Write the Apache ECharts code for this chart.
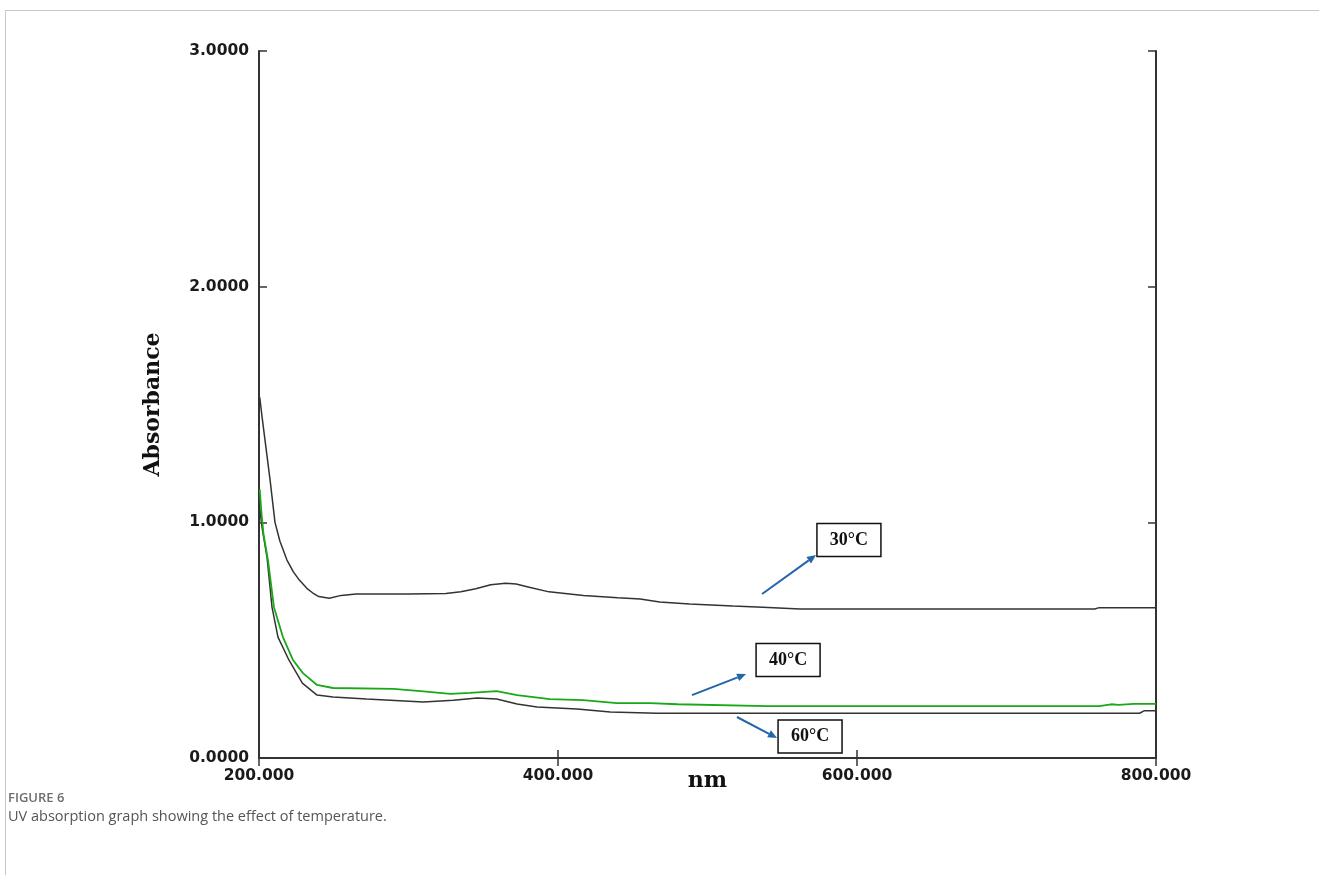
<!DOCTYPE html>
<html>
<head>
<meta charset="utf-8">
<script src="https://cdn.jsdelivr.net/npm/echarts@6/dist/echarts.min.js"></script>
<style>
html,body{margin:0;padding:0;background:#fff;}
#frame{position:absolute;left:5px;top:10px;width:1314px;height:865px;border-left:1px solid #c8c8c8;border-top:1px solid #c8c8c8;}
#chart{position:absolute;left:0;top:0;width:1319px;height:875px;}
#cap1{position:absolute;left:8px;top:788px;font-family:"Open Sans",sans-serif;font-weight:600;font-size:13px;color:#6e6e6e;}
#cap2{position:absolute;left:8px;top:806px;font-family:"Open Sans",sans-serif;font-size:14.5px;color:#555;}
</style>
</head>
<body>
<div id="frame"></div>
<div id="chart"></div>
<div id="cap1">FIGURE 6</div>
<div id="cap2">UV absorption graph showing the effect of temperature.</div>
<script>
// Data (wavelength nm, absorbance)
const seriesNames = ['30°C', '40°C', '60°C'];
const xTicks = [200, 400, 600, 800];
const yTicks = [0, 1, 2, 3];

const data30 = [[200.5,1.53],[202,1.45],[204,1.35],[207.4,1.18],[210.7,1.0],[214,0.92],[218.7,0.84],[223,0.79],[227,0.755],[232,0.72],[236,0.70],[240,0.685],[247,0.678],[255,0.69],[265,0.696],[300,0.696],[325,0.698],[335,0.705],[345,0.718],[355,0.735],[365,0.742],[372,0.738],[380,0.726],[394,0.705],[417,0.69],[440,0.68],[455,0.675],[468,0.662],[488,0.653],[517,0.645],[537,0.64],[562,0.632],[650,0.632],[759,0.632],[762,0.638],[800,0.638]];
const data40 = [[200.5,1.14],[201.5,1.05],[203,0.95],[206,0.84],[210,0.64],[216,0.513],[222.7,0.416],[229.4,0.36],[238.8,0.31],[249.5,0.297],[290,0.293],[310,0.283],[328,0.272],[341,0.276],[359,0.284],[372.6,0.267],[394.6,0.25],[416.7,0.246],[439.5,0.233],[461.5,0.233],[480,0.228],[540,0.22],[762,0.22],[770,0.228],[775,0.225],[785,0.23],[800,0.23]];
const data60 = [[200.5,1.06],[202,0.98],[205.4,0.85],[208.7,0.64],[212.7,0.513],[220,0.416],[229,0.318],[238.8,0.267],[249.5,0.259],[272,0.25],[310,0.238],[330,0.245],[346,0.255],[359,0.25],[372.6,0.229],[386,0.216],[412.7,0.208],[435,0.195],[466,0.19],[789,0.19],[792,0.2],[800,0.2]];

// Annotation boxes (center, data coords) and arrows (from -> to, data coords)
const labelBoxes = [
  {text:'30°C', at:[594.6,0.925]},
  {text:'40°C', at:[553.9,0.416]},
  {text:'60°C', at:[568.6,0.091]}
];
const arrows = [
  {from:[536.5,0.696], to:[572.6,0.861]},
  {from:[489.6,0.267], to:[525.8,0.356]},
  {from:[519.7,0.174], to:[546.5,0.085]}
];

const axisColor = '#333';
const labelFont = {fontFamily:'DejaVu Sans', fontWeight:'bold', fontSize:15.5, color:'#1a1a1a'};
const nameFont = {fontFamily:'DejaVu Serif', fontWeight:'bold', fontSize:22, color:'#111'};

const chart = echarts.init(document.getElementById('chart'), null, {renderer:'canvas'});
const option = {
  animation:false,
  backgroundColor:'transparent',
  grid:{left:259, right:163, top:51, bottom:117, containLabel:false},
  xAxis:[{
    type:'value', min:200, max:800, interval:200, position:'bottom',
    name:'nm', nameLocation:'middle', nameGap:12, nameMoveOverlap:false, nameTextStyle:nameFont,
    axisLine:{show:true, lineStyle:{color:axisColor, width:2}},
    axisTick:{show:true, inside:true, length:8, lineStyle:{color:axisColor, width:1.5}},
    axisLabel:Object.assign({margin:10, formatter:v=>v.toFixed(3)}, labelFont),
    splitLine:{show:false}
  },{
    type:'value', min:200, max:800, interval:200, position:'top',
    axisLine:{show:true, lineStyle:{color:axisColor, width:2}},
    axisTick:{show:true, inside:true, length:8, lineStyle:{color:axisColor, width:1.5}},
    axisLabel:{show:false}, splitLine:{show:false}
  }],
  yAxis:[{
    type:'value', min:0, max:3, interval:1, position:'left',
    name:'Absorbance', nameLocation:'middle', nameGap:95, nameRotate:90, nameMoveOverlap:false, nameTextStyle:nameFont,
    axisLine:{show:true, lineStyle:{color:axisColor, width:2}},
    axisTick:{show:true, inside:true, length:8, lineStyle:{color:axisColor, width:1.5}},
    axisLabel:Object.assign({margin:10, formatter:v=>v.toFixed(4)}, labelFont),
    splitLine:{show:false}
  },{
    type:'value', min:0, max:3, interval:1, position:'right',
    axisLine:{show:true, lineStyle:{color:axisColor, width:2}},
    axisTick:{show:true, inside:true, length:8, lineStyle:{color:axisColor, width:1.5}},
    axisLabel:{show:false}, splitLine:{show:false}
  }],
  series:[
    {name:seriesNames[0], type:'line', data:data30, showSymbol:false, symbol:'none', lineStyle:{color:'#333', width:1.5}, z:3},
    {name:seriesNames[1], type:'line', data:data40, showSymbol:false, symbol:'none', lineStyle:{color:'#18a818', width:1.8}, z:4},
    {name:seriesNames[2], type:'line', data:data60, showSymbol:false, symbol:'none', lineStyle:{color:'#333', width:1.5}, z:3}
  ]
};
chart.setOption(option);

function px(p){ return chart.convertToPixel({gridIndex:0}, p); }
const graphics = [];
labelBoxes.forEach(b=>{
  const c = px(b.at);
  const w = 64, h = 33;
  graphics.push({type:'rect', shape:{x:c[0]-w/2, y:c[1]-h/2, width:w, height:h},
    style:{fill:'#fff', stroke:'#111', lineWidth:1.5}, z:10});
  graphics.push({type:'text', x:c[0], y:c[1], style:{text:b.text, align:'center', verticalAlign:'middle',
    font:'bold 18px "Liberation Serif", serif', fill:'#111'}, z:11});
});
arrows.forEach(a=>{
  const p0 = px(a.from), p1 = px(a.to);
  const dx = p1[0]-p0[0], dy = p1[1]-p0[1];
  const len = Math.sqrt(dx*dx+dy*dy), ux = dx/len, uy = dy/len;
  const hl = 9, hw = 4;
  const bx = p1[0]-ux*hl, by = p1[1]-uy*hl;
  graphics.push({type:'line', shape:{x1:p0[0], y1:p0[1], x2:bx, y2:by}, style:{stroke:'#2366a8', lineWidth:2}, z:10});
  graphics.push({type:'polygon', shape:{points:[[p1[0],p1[1]],[bx-uy*hw,by+ux*hw],[bx+uy*hw,by-ux*hw]]}, style:{fill:'#2366a8'}, z:10});
});
chart.setOption({graphic:graphics});
</script>
</body>
</html>
